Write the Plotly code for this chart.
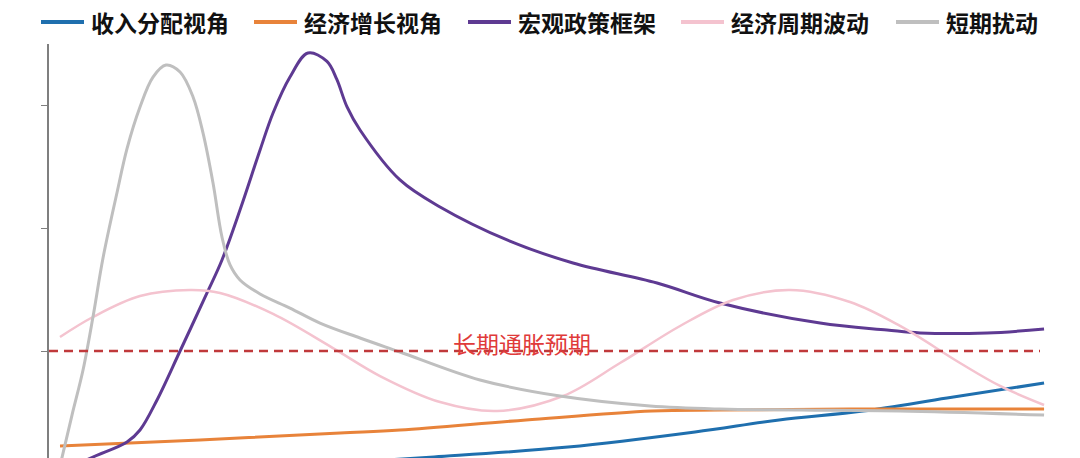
import plotly.graph_objects as go

# Series names (legend order)
names = ["收入分配视角", "经济增长视角", "宏观政策框架", "经济周期波动", "短期扰动"]
colors = ["#1F6FAE", "#E8833A", "#5E3A92", "#F4C3CF", "#BFBFBF"]

# Values (x: 0-100 time axis, y: 1 = long-term inflation expectation)
income_x = [0, 14.23, 26.42, 38.01, 51.63, 64.53, 73.07, 81.61, 90.14, 100]
income_y = [-0.027, 0.022, 0.079, 0.136, 0.217, 0.340, 0.438, 0.511, 0.617, 0.739]

growth_x = [0, 14.23, 28.46, 34.55, 47.36, 60.16, 67.07, 80.28, 100]
growth_y = [0.226, 0.275, 0.332, 0.356, 0.438, 0.511, 0.519, 0.527, 0.527]

policy_x = [0, 3.35, 6.81, 8.13, 9.86, 12.20, 14.94, 16.46, 18.29, 20.33, 21.65, 23.37,
            25.20, 27.13, 28.12, 29.17, 30.49, 34.55, 38.62, 45.43, 52.13, 60.67, 67.07, 77.24,
            84.04, 87.40, 94.21, 100]
policy_y = [0.014, 0.136, 0.258, 0.356, 0.601, 1.000, 1.473, 1.742, 2.149, 2.638, 2.940, 3.233,
            3.429, 3.360, 3.215, 2.989, 2.801, 2.394, 2.174, 1.905, 1.717, 1.554, 1.391, 1.228,
            1.171, 1.147, 1.147, 1.179]

cycle_x = [0, 3.35, 8.13, 13.21, 16.26, 21.65, 27.74, 32.52, 38.62, 44.41, 51.12, 56.91,
           63.01, 68.39, 74.19, 80.28, 85.37, 91.46, 95.53, 100]
cycle_y = [1.114, 1.277, 1.448, 1.497, 1.473, 1.302, 1.024, 0.796, 0.584, 0.511, 0.633, 0.902,
           1.204, 1.416, 1.497, 1.399, 1.204, 0.902, 0.715, 0.560]

shock_x = [0, 1.22, 2.34, 3.35, 4.37, 5.79, 6.81, 8.13, 9.45, 10.77, 12.20, 13.52, 14.53,
           15.55, 16.46, 17.28, 18.29, 20.33, 23.37, 26.42, 30.49, 34.55, 42.68, 50.81,
           59.96, 67.07, 75.20, 85.37, 100]
shock_y = [0.063, 0.478, 0.845, 1.277, 1.758, 2.290, 2.650, 2.989, 3.233, 3.331, 3.274, 3.070,
           2.777, 2.369, 1.929, 1.701, 1.579, 1.465, 1.350, 1.228, 1.106, 0.992, 0.764, 0.633,
           0.552, 0.527, 0.519, 0.511, 0.478]

expect_level = 1.0
expect_label = "长期通胀预期"

series = [
    (income_x, income_y, 3),
    (growth_x, growth_y, 3),
    (policy_x, policy_y, 3),
    (cycle_x, cycle_y, 2.5),
    (shock_x, shock_y, 3),
]

W, H = 1080, 458
ML, MR, MT, MB = 49, 20, 44, 0
PW, PH = W - ML - MR, H - MT - MB


def px_x(px):
    return (px - ML) / PW


def px_y(py):
    return (H - MB - py) / PH


fig = go.Figure()

for (xs, ys, lw), name, color in zip(series, names, colors):
    fig.add_trace(go.Scatter(
        x=xs, y=ys, name=name, mode="lines",
        line=dict(color=color, width=lw, shape="spline", smoothing=1.0),
        showlegend=False, hoverinfo="skip"
    ))

# long-term inflation expectation dashed line
fig.add_shape(type="line", xref="paper", yref="y",
              x0=0, x1=px_x(1040), y0=expect_level, y1=expect_level,
              line=dict(color="#C0393B", width=2.5, dash="9px,6px"))

fig.add_annotation(x=46.9, y=expect_level + 0.069, xref="x", yref="y",
                   text=expect_label, showarrow=False,
                   font=dict(family="Noto Sans CJK SC", size=23, color="#E03A3A"))

# legend drawn along the top
legend_line_starts = [41, 254, 468, 681, 896]
for start, name, color in zip(legend_line_starts, names, colors):
    fig.add_shape(type="line", xref="paper", yref="paper",
                  x0=px_x(start), x1=px_x(start + 43), y0=px_y(22), y1=px_y(22),
                  line=dict(color=color, width=4))
    fig.add_annotation(xref="paper", yref="paper", x=px_x(start + 48), y=px_y(22),
                       xanchor="left", yanchor="middle", text=name, showarrow=False,
                       font=dict(family="Noto Sans CJK SC", size=23, color="#111111",
                                 weight="bold"))

fig.update_layout(
    width=W, height=H,
    margin=dict(l=ML, r=MR, t=MT, b=MB),
    plot_bgcolor="white", paper_bgcolor="white",
    showlegend=False,
    xaxis=dict(range=[-1.118, 101.62], showline=False, showgrid=False,
               zeroline=False, showticklabels=False, ticks=""),
    yaxis=dict(range=[0.128, 3.502], showline=True, linecolor="#7F7F7F", linewidth=1.5,
               ticks="outside", ticklen=6, tickwidth=1.2, tickcolor="#7F7F7F",
               tickvals=[1, 2, 3], showticklabels=False, showgrid=False, zeroline=False),
)

# drop the page's default body margin so the figure sits at the window's corner
fig.write_html("out.html", config={"displayModeBar": False},
               post_script="document.body.style.margin='0';")
